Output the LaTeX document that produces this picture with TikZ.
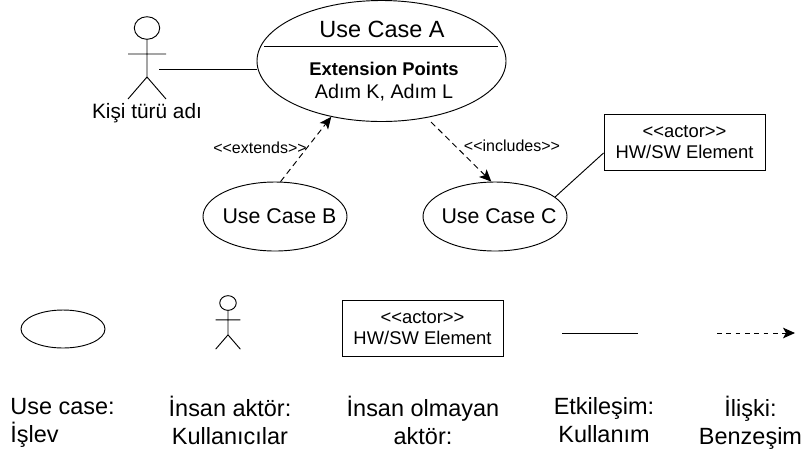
\documentclass[tikz,border=0pt]{standalone}
\usepackage{fontspec}
\setmainfont{Liberation Sans}
\usetikzlibrary{arrows.meta,shapes.geometric}
\begin{document}
\begin{tikzpicture}[x=0.75pt,y=-0.75pt,line width=0.7pt,
          case/.style = {shape=ellipse, draw, inner sep=0pt, minimum width=108pt, minimum height=51.75pt},
          casename/.style = {font=\fontsize{16}{19}\selectfont},
          elementbox/.style = {shape=rectangle, draw, align=center, minimum width=120.75pt, minimum height=42pt, font=\fontsize{13.8}{15.75}\selectfont},
          caption/.style = {align=center, font=\fontsize{17.6}{21}\selectfont, execute at begin node=\strut, execute at end node=\strut},
          relation/.style = {dash pattern=on 4.5pt off 3pt, -{Stealth[length=9pt,width=8pt,inset=2.2pt]}},
          smalllabel/.style = {font=\fontsize{12}{14}\selectfont},
          pics/stickman/.style = {code={
            \draw (0,-#1*24) -- (0,#1*14) (-#1*19,-#1*9) -- (#1*19,-#1*9)
                  (-#1*19,#1*36) -- (0,#1*14) -- (#1*19,#1*36);
            \draw (0,-#1*35) ellipse [x radius=#1*12.7, y radius=#1*11.3];}}
          ]
  \useasboundingbox (0,0) rectangle (806,455);
  % upper part
  \node[case, minimum width=186.75pt, minimum height=90.75pt] (casea) at (381.5,61) {};
  \node[font=\fontsize{17.6}{21}\selectfont] (casetitle) at (382,29) {Use Case A};
  \node[font=\fontsize{13.8}{17}\selectfont\bfseries] (extpoints) at (384,69) {Extension Points};
  \node[font=\fontsize{14.8}{18}\selectfont] (extsteps) at (384,93) {Adım K, Adım L};
  \coordinate (sepleft) at (264,46);
  \coordinate (sepright) at (498,46);
  \draw (sepleft) -- (sepright);
  \pic at (147,63) {stickman=1};
  \node[font=\fontsize{15.6}{19}\selectfont] (actorname) at (147,113) {Kişi türü adı};
  \coordinate (actorhand) at (159,69);
  \draw (actorhand) -- (casea.west |- actorhand);
  \node[case] (caseb) at (275,216.5) {};
  \node[casename] (casebname) at (279.5,216.5) {Use Case B};
  \node[case] (casec) at (495,216.5) {};
  \node[casename] (casecname) at (499,216.5) {Use Case C};
  \node[elementbox] (hwsw) at (684.5,142) {<{}<actor>{}> \\ HW/SW Element};
  \coordinate (includestart) at (431,122);
  \draw[relation] (caseb.81.7) -- (casea.228);
  \draw[relation] (includestart) -- (casec.96.6);
  \draw (casec.18.6) -- ([yshift=-8.25pt]hwsw.west);
  \node[smalllabel] (extends) at (260,148) {<{}<extends>{}>};
  \node[smalllabel] (includes) at (512,146) {<{}<includes>{}>};
  % legend
  \node[case, minimum width=63pt, minimum height=28.5pt] (legendcase) at (63,329) {};
  \pic at (228,325.75) {stickman=0.65};
  \node[elementbox] (legendbox) at (422.5,328) {<{}<actor>{}> \\ HW/SW Element};
  \coordinate (plainstart) at (562,333);
  \coordinate (plainend) at (638,333);
  \draw (plainstart) -- (plainend);
  \coordinate (relstart) at (717,333);
  \coordinate (relend) at (795,333);
  \draw[relation, dash pattern=on 3.6pt off 3.4pt] (relstart) -- (relend);
  \node[caption, align=left] (captiona) at (62.5,424.5) {Use case: \\ İşlev};
  \node[caption] (captionb) at (230,424.5) {İnsan aktör: \\ Kullanıcılar};
  \node[caption] (captionc) at (423,424.5) {İnsan olmayan \\ aktör:};
  \node[caption] (captiond) at (604,424.5) {Etkileşim: \\ Kullanım};
  \node[caption] (captione) at (750.5,424.5) {İlişki: \\ Benzeşim};
\end{tikzpicture}
\end{document}
